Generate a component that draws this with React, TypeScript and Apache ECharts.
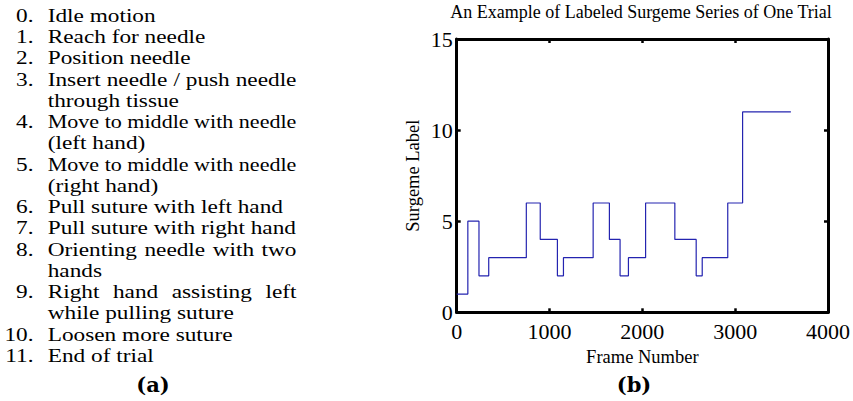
import React, { useEffect, useRef } from "react";
import * as echarts from "echarts";

// ---- data ----
const frameNumbers = [0, 120, 240, 345, 750, 900, 1085, 1150, 1470, 1645, 1760, 1850, 2035, 2350, 2580, 2645, 2920, 3080, 3600];
const surgemeLabels = [1, 5, 2, 3, 6, 4, 2, 3, 6, 4, 2, 3, 6, 4, 2, 3, 6, 11, 11];

const xTickValues = [0, 1000, 2000, 3000, 4000];
const yTickValues = [0, 5, 10, 15];

const chartTitle = "An Example of Labeled Surgeme Series of One Trial";
const xAxisName = "Frame Number";
const yAxisName = "Surgeme Label";

const surgemeNumbers = ["0.", "1.", "2.", "3.", "4.", "5.", "6.", "7.", "8.", "9.", "10.", "11."];
const surgemeDescriptions: string[][] = [
  ["Idle motion"],
  ["Reach for needle"],
  ["Position needle"],
  ["Insert needle / push needle", "through tissue"],
  ["Move to middle with needle", "(left hand)"],
  ["Move to middle with needle", "(right hand)"],
  ["Pull suture with left hand"],
  ["Pull suture with right hand"],
  ["Orienting needle with two", "hands"],
  ["Right hand assisting left", "while pulling suture"],
  ["Loosen more suture"],
  ["End of trial"],
];
const panelLabels = ["(a)", "(b)"];

// ---- layout / style ----
const W = 853;
const H = 401;
const LIST_FONT = "'Liberation Serif', 'Times New Roman', serif";
const LIST_SIZE = 18;
const NUM_RIGHT_X = 33.5;
const TEXT_LEFT_X = 47.7;
const TEXT_RIGHT_X = 296.5;
const REF_LINE = "Pull suture with right hand"; // natural-width line that spans the full column
const LINE0_Y = 15.7;
const LINE_H = 21.25;
const CHART_FONT = "'Liberation Serif', 'Times New Roman', serif";

function buildListGraphics() {
  const canvas = document.createElement("canvas");
  const ctx = canvas.getContext("2d") as CanvasRenderingContext2D;
  ctx.font = `${LIST_SIZE}px ${LIST_FONT}`;
  const span = TEXT_RIGHT_X - TEXT_LEFT_X;
  const sx = (span - 0.3) / ctx.measureText(REF_LINE).width;
  const els: any[] = [];
  const baseStyle = {
    fontSize: LIST_SIZE,
    fontFamily: LIST_FONT,
    fill: "#000",
    verticalAlign: "middle",
    textVerticalAlign: "middle",
  };
  let line = 0;
  surgemeDescriptions.forEach((lines, i) => {
    const y0 = LINE0_Y + line * LINE_H;
    els.push({
      type: "text",
      silent: true,
      x: NUM_RIGHT_X,
      y: y0,
      scaleX: sx,
      style: { ...baseStyle, text: surgemeNumbers[i], align: "right", textAlign: "right" },
    });
    lines.forEach((txt, j) => {
      const y = LINE0_Y + line * LINE_H;
      const justify = j < lines.length - 1;
      const fullW = ctx.measureText(txt).width * sx;
      if (justify && fullW < span) {
        const words = txt.split(" ");
        const widths = words.map((w) => ctx.measureText(w).width * sx);
        const total = widths.reduce((a, b) => a + b, 0);
        const gap = (span - total) / (words.length - 1);
        let x = TEXT_LEFT_X;
        words.forEach((w, k) => {
          els.push({
            type: "text",
            silent: true,
            x,
            y,
            scaleX: sx,
            style: { ...baseStyle, text: w, align: "left", textAlign: "left" },
          });
          x += widths[k] + gap;
        });
      } else {
        const lineScale = justify ? (sx * span) / fullW : sx;
        els.push({
          type: "text",
          silent: true,
          x: TEXT_LEFT_X,
          y,
          scaleX: lineScale,
          style: { ...baseStyle, text: txt, align: "left", textAlign: "left" },
        });
      }
      line += 1;
    });
  });
  return els;
}

export default function App() {
  const ref = useRef<HTMLDivElement>(null);
  useEffect(() => {
    if (!ref.current) return;
    const chart = echarts.init(ref.current, undefined, { renderer: "svg", width: W, height: H });

    const xMin = xTickValues[0];
    const xMax = xTickValues[xTickValues.length - 1];
    const xStep = xTickValues[1] - xTickValues[0];
    const yMin = yTickValues[0];
    const yMax = yTickValues[yTickValues.length - 1];
    const yStep = yTickValues[1] - yTickValues[0];

    const axisLine = { show: true, onZero: false, lineStyle: { color: "#000", width: 3 } };
    const axisTick = { show: true, inside: true, length: 4, lineStyle: { color: "#000", width: 2.5 } };
    const labelStyle = { color: "#000", fontSize: 22, fontFamily: CHART_FONT, formatter: (v: number) => String(v) };
    const nameStyle = { color: "#000", fontSize: 18.5, fontFamily: CHART_FONT };
    const panelStyle = {
      fontSize: 21,
      fontWeight: "bold",
      fontFamily: "'DejaVu Serif', serif",
      fill: "#000",
      align: "center",
      textAlign: "center",
      verticalAlign: "middle",
      textVerticalAlign: "middle",
    };

    const graphics: any[] = [
      ...buildListGraphics(),
      {
        type: "text",
        silent: true,
        x: 641,
        y: 12,
        style: {
          text: chartTitle,
          fontSize: 18,
          fontFamily: CHART_FONT,
          fill: "#000",
          align: "center",
          textAlign: "center",
          verticalAlign: "middle",
          textVerticalAlign: "middle",
        },
      },
      { type: "text", silent: true, x: 153, y: 384, style: { ...panelStyle, text: panelLabels[0] } },
      { type: "text", silent: true, x: 634, y: 384, style: { ...panelStyle, text: panelLabels[1] } },
    ];

    chart.setOption({
      animation: false,
      backgroundColor: "#fff",
      grid: { left: 456.7, right: W - 828.3, top: 39, bottom: H - 312.3, containLabel: false },
      xAxis: [
        {
          type: "value",
          position: "bottom",
          min: xMin,
          max: xMax,
          interval: xStep,
          name: xAxisName,
          nameLocation: "middle",
          nameGap: 27,
          nameTextStyle: nameStyle,
          axisLine,
          axisTick,
          axisLabel: { ...labelStyle, margin: 8, hideOverlap: false, showMinLabel: true, showMaxLabel: true },
          splitLine: { show: false },
        },
        {
          type: "value",
          position: "top",
          min: xMin,
          max: xMax,
          interval: xStep,
          axisLine,
          axisTick,
          axisLabel: { show: false },
          splitLine: { show: false },
        },
      ],
      yAxis: [
        {
          type: "value",
          position: "left",
          min: yMin,
          max: yMax,
          interval: yStep,
          name: yAxisName,
          nameLocation: "middle",
          nameGap: 34,
          nameTextStyle: nameStyle,
          axisLine,
          axisTick,
          axisLabel: { ...labelStyle, margin: 4, showMinLabel: true, showMaxLabel: true },
          splitLine: { show: false },
        },
        {
          type: "value",
          position: "right",
          min: yMin,
          max: yMax,
          interval: yStep,
          axisLine,
          axisTick,
          axisLabel: { show: false },
          splitLine: { show: false },
        },
      ],
      series: [
        {
          type: "line",
          step: "end",
          xAxisIndex: 0,
          yAxisIndex: 0,
          data: frameNumbers.map((f, i) => [f, surgemeLabels[i]]),
          showSymbol: false,
          symbol: "none",
          lineStyle: { color: "#2424b0", width: 1.2 },
          z: 1,
        },
      ],
      graphic: graphics,
    });

    return () => chart.dispose();
  }, []);

  return (
    <div
      ref={ref}
      style={{ position: "absolute", left: 0, top: 0, width: W, height: H, background: "#fff" }}
    />
  );
}
